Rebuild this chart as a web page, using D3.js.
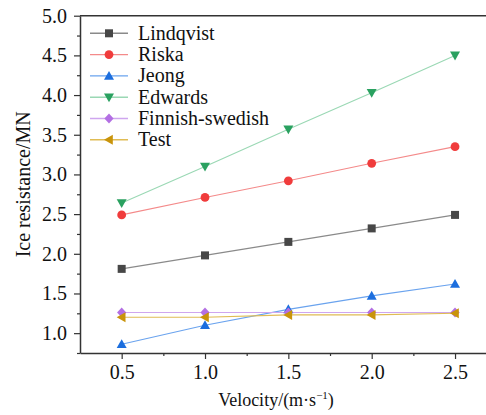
<!DOCTYPE html>
<meta charset="utf-8">
<title>Ice resistance</title>
<style>
body { margin: 0; background: #fff; }
</style>
<body>
<script src="https://cdn.jsdelivr.net/npm/d3@7/dist/d3.min.js"></script>
<script>
'use strict';

const velocity = [0.5, 1.0, 1.5, 2.0, 2.5];
const names = ["Lindqvist", "Riska", "Jeong", "Edwards", "Finnish-swedish", "Test"];
const lindqvist = [1.81, 1.98, 2.15, 2.32, 2.49];
const riska = [2.49, 2.71, 2.92, 3.14, 3.35];
const jeong = [0.86, 1.10, 1.30, 1.47, 1.62];
const edwards = [2.64, 3.10, 3.57, 4.03, 4.50];
const finnish = [1.26, 1.26, 1.26, 1.26, 1.26];
const test = [1.20, 1.20, 1.23, 1.23, 1.25];
const xTicks = [0.5, 1.0, 1.5, 2.0, 2.5];
const yTicks = [1.0, 1.5, 2.0, 2.5, 3.0, 3.5, 4.0, 4.5, 5.0];

const series = [
  {name: names[0], values: lindqvist, marker: "#474747", line: "#8a8a8a", shape: "square"},
  {name: names[1], values: riska, marker: "#f03c3c", line: "#f48a8a", shape: "circle"},
  {name: names[2], values: jeong, marker: "#1c6ede", line: "#6aa3ee", shape: "up"},
  {name: names[3], values: edwards, marker: "#2aa160", line: "#9ad8b4", shape: "down"},
  {name: names[4], values: finnish, marker: "#b36fe3", line: "#cfa6ef", shape: "diamond"},
  {name: names[5], values: test, marker: "#c9940b", line: "#e0bc54", shape: "left"}
];

const FONT = '"Liberation Serif"';
const W = 486, H = 415;
const margin = {left: 80, top: 15.7, bottom: 62};

const x = d3.scaleLinear().domain([0.25, 2.75]).range([margin.left, margin.left + 416.7]);
const y = d3.scaleLinear().domain([0.75, 5.0]).range([H - margin.bottom, margin.top]);

const svg = d3.select("body").append("svg").attr("width", W).attr("height", H);

function drawMarker(g, shape, color) {
  if (shape === "square") {
    g.append("rect").attr("x", -4).attr("y", -4).attr("width", 8).attr("height", 8).attr("fill", color);
  } else if (shape === "circle") {
    g.append("circle").attr("r", 4.4).attr("fill", color);
  } else {
    const pts = {
      up: [[0, -5], [5, 3.8], [-5, 3.8]],
      down: [[0, 5], [5, -3.8], [-5, -3.8]],
      left: [[-5, 0], [3.8, -5], [3.8, 5]],
      diamond: [[0, -5], [4.6, 0], [0, 5], [-4.6, 0]]
    }[shape];
    g.append("polygon").attr("points", pts.map(p => p.join(",")).join(" ")).attr("fill", color);
  }
}

// axes
const xAxis = svg.append("g").attr("transform", `translate(0,${y(0.75)})`)
  .call(d3.axisBottom(x).tickValues(xTicks).tickFormat(d3.format(".1f")).tickSize(6).tickSizeOuter(0));
svg.append("g").attr("transform", `translate(0,${y(0.75)})`)
  .call(d3.axisBottom(x).tickValues([0.75, 1.25, 1.75, 2.25, 2.75]).tickFormat("").tickSize(3).tickSizeOuter(0))
  .select(".domain").remove();
const yAxis = svg.append("g").attr("transform", `translate(${x(0.25)},0)`)
  .call(d3.axisLeft(y).tickValues(yTicks).tickFormat(d3.format(".1f")).tickSize(6).tickSizeOuter(0));
svg.append("g").attr("transform", `translate(${x(0.25)},0)`)
  .call(d3.axisLeft(y).tickValues([0.75, 1.25, 1.75, 2.25, 2.75, 3.25, 3.75, 4.25, 4.75]).tickFormat("").tickSize(3).tickSizeOuter(0))
  .select(".domain").remove();
svg.selectAll("g").attr("font-family", null);
svg.selectAll(".domain").attr("stroke", "#333").attr("stroke-width", 1.5);
svg.selectAll(".tick line").attr("stroke", "#333").attr("stroke-width", 1.2);
svg.selectAll(".tick text").attr("font-size", 20).attr("fill", "#111").style("font-family", FONT);
xAxis.selectAll(".tick text").attr("dy", "17px");
yAxis.selectAll(".tick text").attr("dx", "-4px");

// top frame line
svg.append("line").attr("x1", x(0.25)).attr("x2", W).attr("y1", y(5)).attr("y2", y(5))
  .attr("stroke", "#333").attr("stroke-width", 1.5);

// series
const line = d3.line().x((d, i) => x(velocity[i])).y(d => y(d));
series.forEach(s => {
  svg.append("path").datum(s.values).attr("d", line).attr("fill", "none")
    .attr("stroke", s.line).attr("stroke-width", 1.1);
});
series.forEach(s => {
  s.values.forEach((v, i) => {
    const g = svg.append("g").attr("transform", `translate(${x(velocity[i])},${y(v)})`);
    drawMarker(g, s.shape, s.marker);
  });
});

// legend
const legend = svg.append("g").attr("transform", "translate(90,33.3)");
series.forEach((s, i) => {
  const g = legend.append("g").attr("transform", `translate(0,${i * 21.3})`);
  g.append("line").attr("x1", 0).attr("x2", 38).attr("stroke", s.line).attr("stroke-width", 1.4);
  const m = g.append("g").attr("transform", "translate(19,0)");
  drawMarker(m, s.shape, s.marker);
  g.append("text").attr("x", 48).attr("y", 6.3).attr("font-size", 20).attr("fill", "#111")
    .style("font-family", FONT).text(s.name);
});

// axis titles
svg.append("text").attr("transform", `translate(30,${(y(0.75) + y(5)) / 2}) rotate(-90)`)
  .attr("text-anchor", "middle").attr("font-size", 20).attr("fill", "#111")
  .style("font-family", FONT).text("Ice resistance/MN");
const xt = svg.append("text").attr("x", 276).attr("y", 406).attr("text-anchor", "middle")
  .attr("font-size", 18).attr("fill", "#111").style("font-family", FONT);
xt.append("tspan").text("Velocity/(m·s");
xt.append("tspan").attr("dy", -7).attr("font-size", 11).text("−1");
xt.append("tspan").attr("dy", 7).text(")");
</script>
</body>
